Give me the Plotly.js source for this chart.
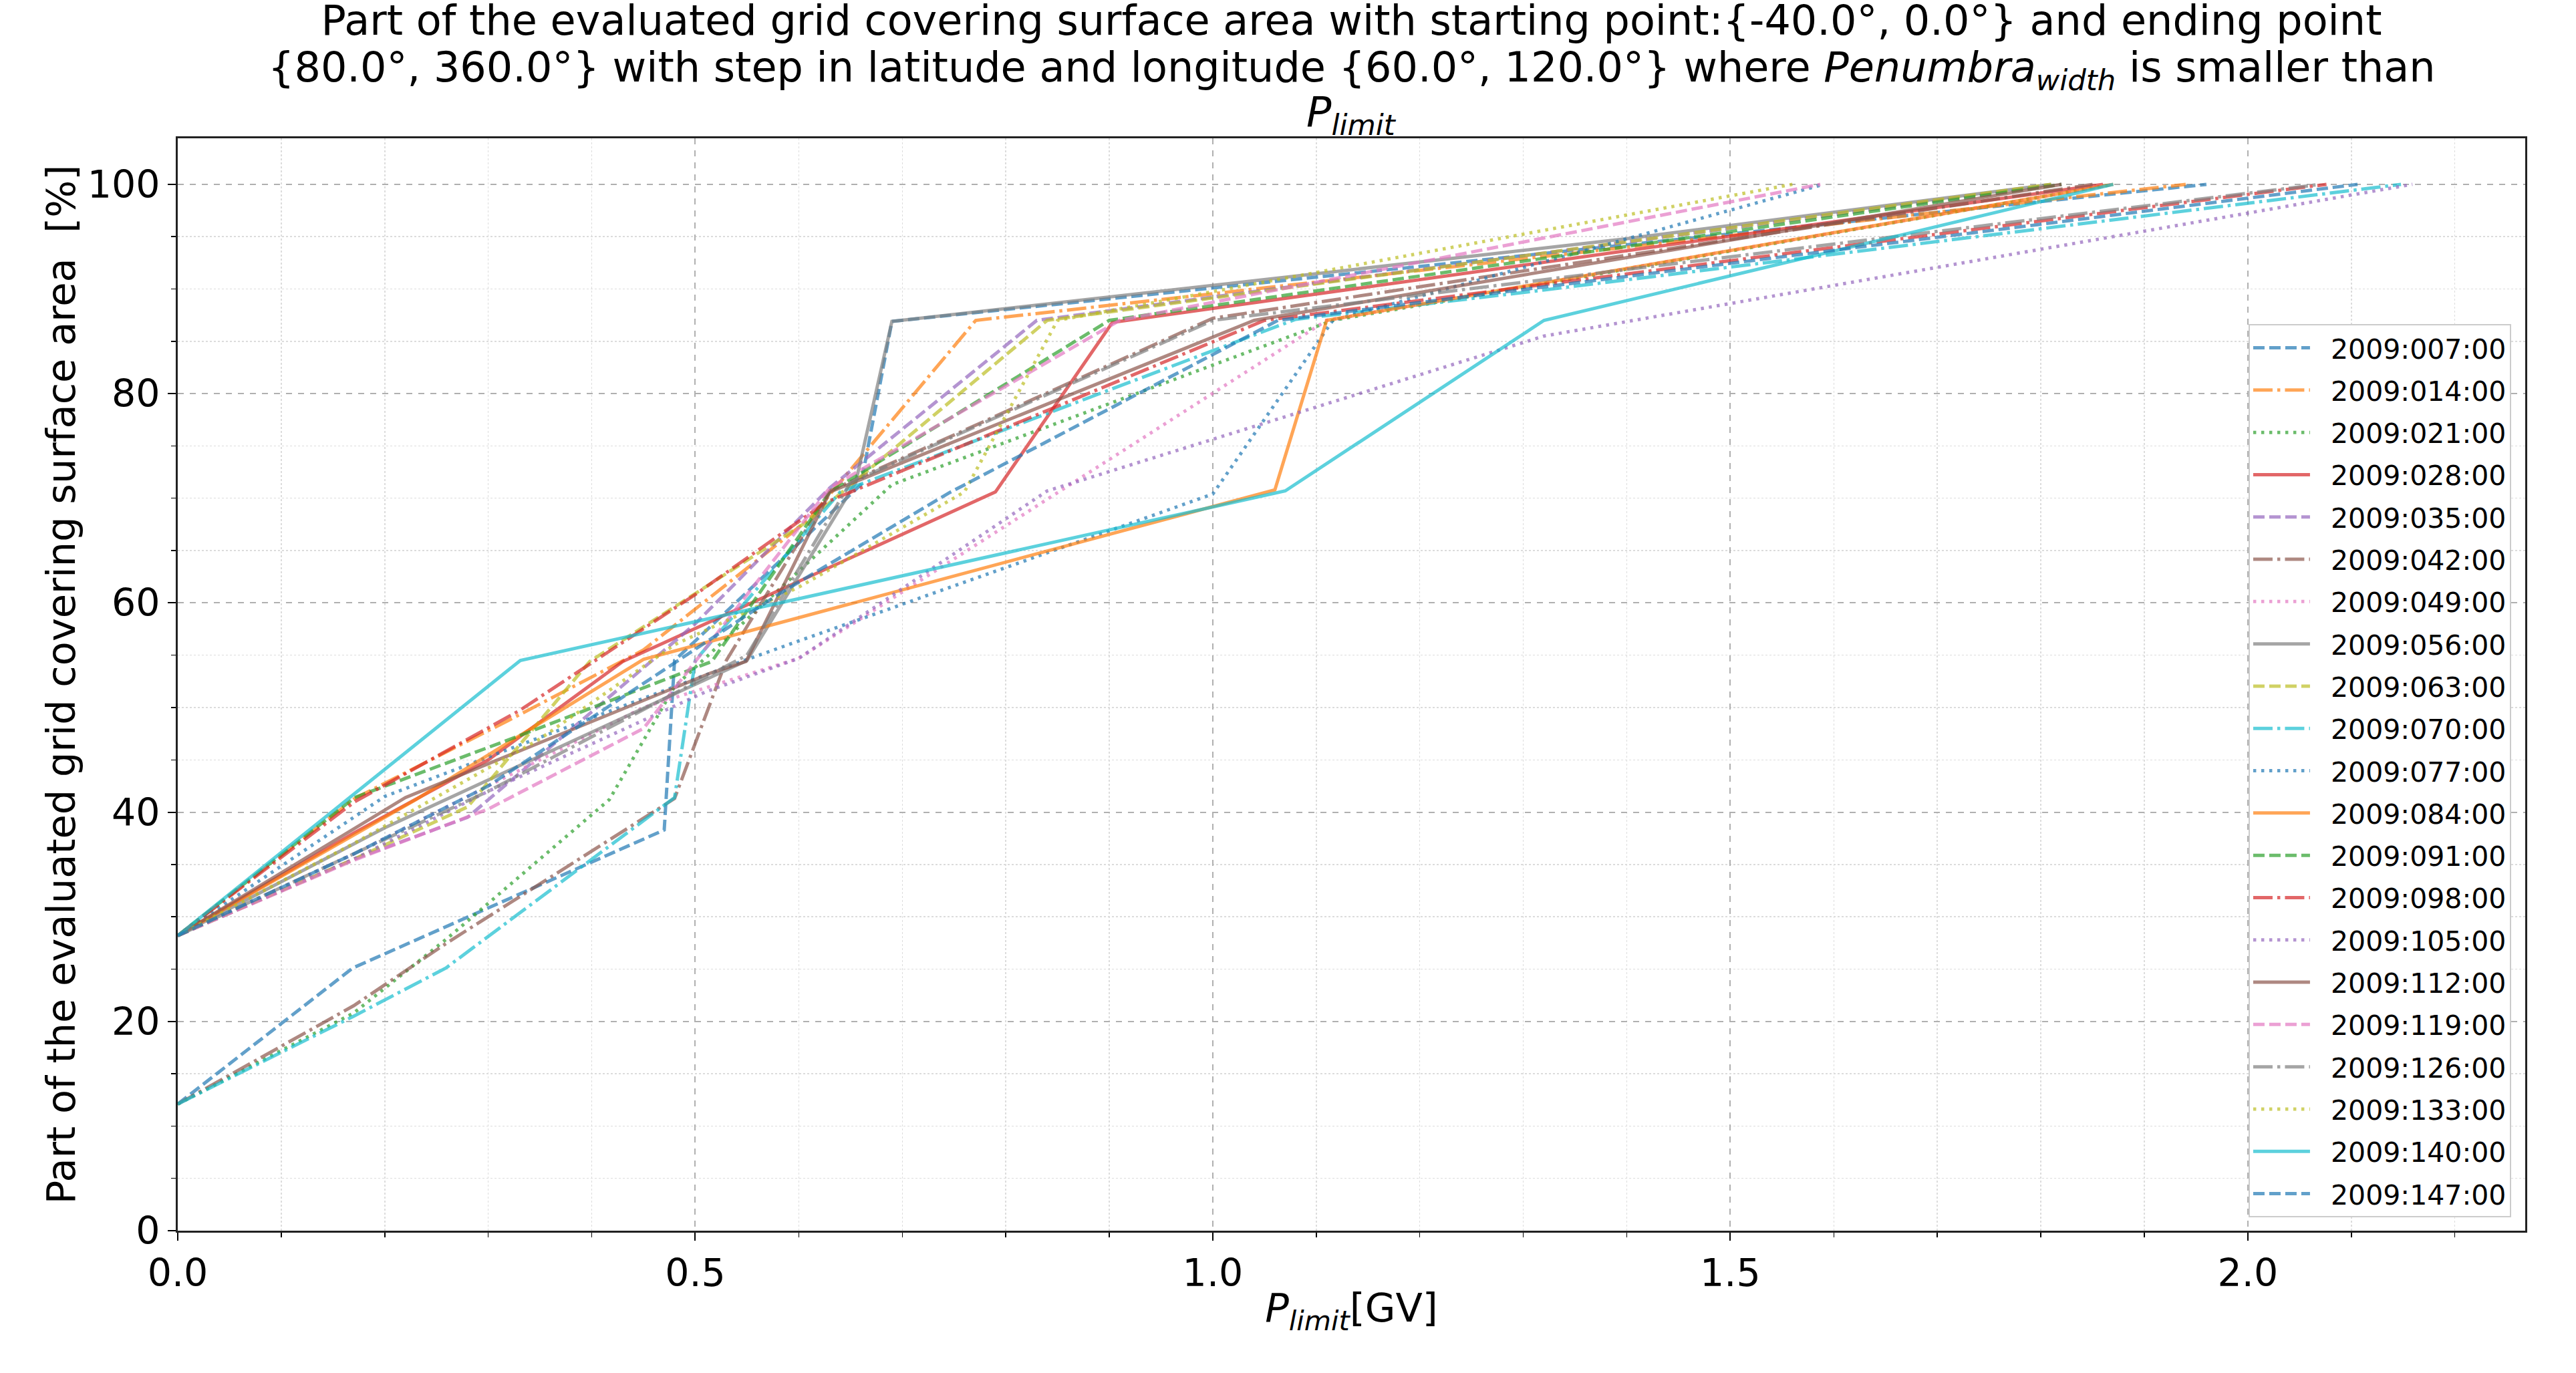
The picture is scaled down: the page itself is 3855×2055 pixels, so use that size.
<!DOCTYPE html>
<html>
<head>
<meta charset="utf-8">
<script src="https://cdn.plot.ly/plotly-3.0.1.min.js"></script>
<style>
  html, body { margin: 0; padding: 0; background: #fff; }
</style>
</head>
<body>
<div id="plotArea" style="width:3855px;height:2055px;"></div>
<script>
// series labels (day of year 2009)
var labels = ["2009:007:00", "2009:014:00", "2009:021:00", "2009:028:00", "2009:035:00",
  "2009:042:00", "2009:049:00", "2009:056:00", "2009:063:00", "2009:070:00",
  "2009:077:00", "2009:084:00", "2009:091:00", "2009:098:00", "2009:105:00",
  "2009:112:00", "2009:119:00", "2009:126:00", "2009:133:00", "2009:140:00", "2009:147:00"];

// P_limit [GV] and covered part [%] for each date
var x007 = [0, 0.169, 0.47, 0.48, 0.66, 0.69, 1.96];
var y007 = [12.1, 25.1, 38.3, 54.5, 71.3, 86.9, 100];
var x014 = [0, 0.171, 0.33, 0.45, 0.61, 0.771, 1.94];
var y014 = [28.2, 41.3, 49.3, 55.5, 68, 87, 100];
var x021 = [0, 0.17, 0.26, 0.417, 0.48, 0.69, 1.116, 1.87];
var y021 = [12.1, 20.8, 27.9, 41.2, 52, 71.3, 87, 100];
var x028 = [0, 0.17, 0.3, 0.43, 0.79, 0.903, 1.86];
var y028 = [28.2, 38, 45, 54.4, 70.6, 86.8, 100];
var x035 = [0, 0.17, 0.28, 0.5, 0.63, 0.83, 1.82];
var y035 = [28.2, 35.5, 39.5, 58, 71, 87, 100];
var x042 = [0, 0.17, 0.26, 0.48, 0.53, 0.63, 1.0, 1.85];
var y042 = [12.1, 21.5, 27.5, 41.3, 54.5, 70.7, 87.2, 100];
var x049 = [0, 0.17, 0.45, 0.6, 1.11, 1.87];
var y049 = [28.2, 36, 50, 54.7, 87, 100];
var x056 = [0, 0.2, 0.55, 0.655, 0.69, 1.40, 1.81];
var y056 = [28.2, 38.5, 54.5, 71.5, 86.9, 94.8, 100];
var x063 = [0, 0.17, 0.28, 0.398, 0.607, 0.84, 1.81];
var y063 = [28.2, 35.5, 40.5, 54.4, 67.7, 87, 100];
var x070 = [0, 0.17, 0.259, 0.48, 0.50, 0.64, 1.08, 1.32, 2.148];
var y070 = [12.1, 20.5, 25.1, 41.4, 54.5, 70.6, 87.1, 89.9, 100];
var x077 = [0, 0.2, 0.33, 0.55, 1.0, 1.116, 1.59];
var y077 = [28.2, 41.5, 46.4, 54.6, 70.4, 87, 100];
var x084 = [0, 0.23, 0.45, 1.06, 1.11, 1.87];
var y084 = [28.2, 41.2, 54.6, 70.8, 87, 100];
var x091 = [0, 0.171, 0.33, 0.516, 0.63, 0.9, 1.82];
var y091 = [28.2, 41.4, 47.3, 54.4, 70.6, 87, 100];
var x098 = [0, 0.171, 0.33, 0.5, 0.626, 1.05, 2.076];
var y098 = [28.2, 41, 49.7, 60.8, 69.6, 87, 100];
var x105 = [0, 0.17, 0.3, 0.51, 0.6, 0.84, 1.32, 2.159];
var y105 = [28.2, 35.5, 42, 51.5, 54.7, 70.7, 85.5, 100];
var x112 = [0, 0.22, 0.515, 0.549, 0.63, 1.04, 1.82];
var y112 = [28.2, 41.4, 53.3, 54.4, 70.6, 87, 100];
var x119 = [0, 0.17, 0.3, 0.45, 0.63, 0.91, 1.587];
var y119 = [28.2, 35.4, 40.3, 48, 71, 87, 100];
var x126 = [0, 0.17, 0.3, 0.55, 0.65, 1.0, 2.07];
var y126 = [28.2, 36, 42, 55, 71.5, 87, 100];
var x133 = [0, 0.17, 0.35, 0.48, 0.6, 0.76, 0.85, 1.56];
var y133 = [28.2, 37, 47, 56, 61.5, 70.6, 87, 100];
var x140 = [0, 0.331, 1.07, 1.32, 1.87];
var y140 = [28.2, 54.5, 70.7, 87, 100];
var x147 = [0, 0.17, 0.3, 0.58, 0.745, 1.063, 2.106];
var y147 = [28.2, 36, 42.5, 60.8, 70.5, 87, 100];

var xs = [x007, x014, x021, x028, x035, x042, x049, x056, x063, x070, x077,
  x084, x091, x098, x105, x112, x119, x126, x133, x140, x147];
var ys = [y007, y014, y021, y028, y035, y042, y049, y056, y063, y070, y077,
  y084, y091, y098, y105, y112, y119, y126, y133, y140, y147];

// matplotlib tab10 + cycling line styles
var colors = ["#1f77b4", "#ff7f0e", "#2ca02c", "#d62728", "#9467bd",
  "#8c564b", "#e377c2", "#7f7f7f", "#bcbd22", "#17becf"];
var dashes = ["17px,7px", "29px,7px,4.5px,7px", "4.5px,7.5px", "solid"];

var traces = [];
for (var i = 0; i < labels.length; i++) {
  traces.push({
    x: xs[i],
    y: ys[i],
    name: "\u00a0\u00a0" + labels[i],
    legendgroup: "g" + i,
    type: "scatter",
    mode: "lines",
    opacity: 0.7,
    line: {color: colors[i % 10], width: 5, dash: dashes[i % 4]}
  });
}

var gridMajor = "#b0b0b0";
var gridMinor = "#dcdcdc";

// title is three lines with tighter spacing than plotly's <br>, so lines 2 and 3 are annotations
var titleLine1 = "Part of the evaluated grid covering surface area with starting point:{-40.0°, 0.0°} and ending point";
var titleLine2 = "{80.0°, 360.0°} with step in latitude and longitude {60.0°, 120.0°} where <i>Penumbra</i><sub><i>width</i></sub> is smaller than";
var titleLine3 = "<i>P</i><sub><i>limit</i></sub>";

var layout = {
  width: 3855,
  height: 2055,
  margin: {l: 266, r: 76, t: 207, b: 213},
  paper_bgcolor: "#ffffff",
  plot_bgcolor: "#ffffff",
  font: {family: "DejaVu Sans", color: "#000000", size: 57},
  title: {
    text: titleLine1,
    font: {size: 62},
    xref: "paper",
    x: 0.5,
    xanchor: "center",
    yref: "container",
    y: 0.9855,
    yanchor: "middle"
  },
  annotations: [
    {text: titleLine2, xref: "paper", yref: "paper", x: 0.5, y: 1.0625,
      xanchor: "center", yanchor: "middle", showarrow: false, font: {size: 62}},
    {text: titleLine3, xref: "paper", yref: "paper", x: 0.5, y: 1.0215,
      xanchor: "center", yanchor: "middle", showarrow: false, font: {size: 62}}
  ],
  showlegend: true,
  legend: {
    x: 0.994,
    xanchor: "right",
    y: 0.012,
    yanchor: "bottom",
    bgcolor: "#ffffff",
    bordercolor: "#cccccc",
    borderwidth: 2,
    font: {size: 41},
    itemwidth: 85,
    tracegroupgap: 7
  },
  xaxis: {
    range: [0, 2.268],
    tick0: 0,
    dtick: 0.5,
    tickformat: ".1f",
    ticks: "outside",
    ticklen: 12,
    tickwidth: 2,
    tickcolor: "#000000",
    showline: true,
    mirror: true,
    linecolor: "#222222",
    linewidth: 3,
    zeroline: false,
    showgrid: true,
    gridcolor: gridMajor,
    gridwidth: 2,
    griddash: "dash",
    minor: {dtick: 0.1, ticks: "outside", ticklen: 7, tickwidth: 1.5, tickcolor: "#000000",
      showgrid: true, gridcolor: gridMinor, gridwidth: 1.5, griddash: "dot"},
    tickfont: {size: 57},
    title: {text: "<i>P</i><sub><i>limit</i></sub>[GV]", font: {size: 59}, standoff: 0}
  },
  yaxis: {
    range: [0, 104.4],
    tick0: 0,
    dtick: 20,
    ticks: "outside",
    ticklen: 12,
    tickwidth: 2,
    tickcolor: "#000000",
    showline: true,
    mirror: true,
    linecolor: "#222222",
    linewidth: 3,
    zeroline: false,
    showgrid: true,
    gridcolor: gridMajor,
    gridwidth: 2,
    griddash: "dash",
    minor: {dtick: 5, ticks: "outside", ticklen: 7, tickwidth: 1.5, tickcolor: "#000000",
      showgrid: true, gridcolor: gridMinor, gridwidth: 1.5, griddash: "dot"},
    tickfont: {size: 57},
    title: {text: "Part of the evaluated grid covering surface area\u00a0\u00a0[%]", font: {size: 59}, standoff: 0}
  }
};

Plotly.newPlot("plotArea", traces, layout, {staticPlot: true});
</script>
</body>
</html>
